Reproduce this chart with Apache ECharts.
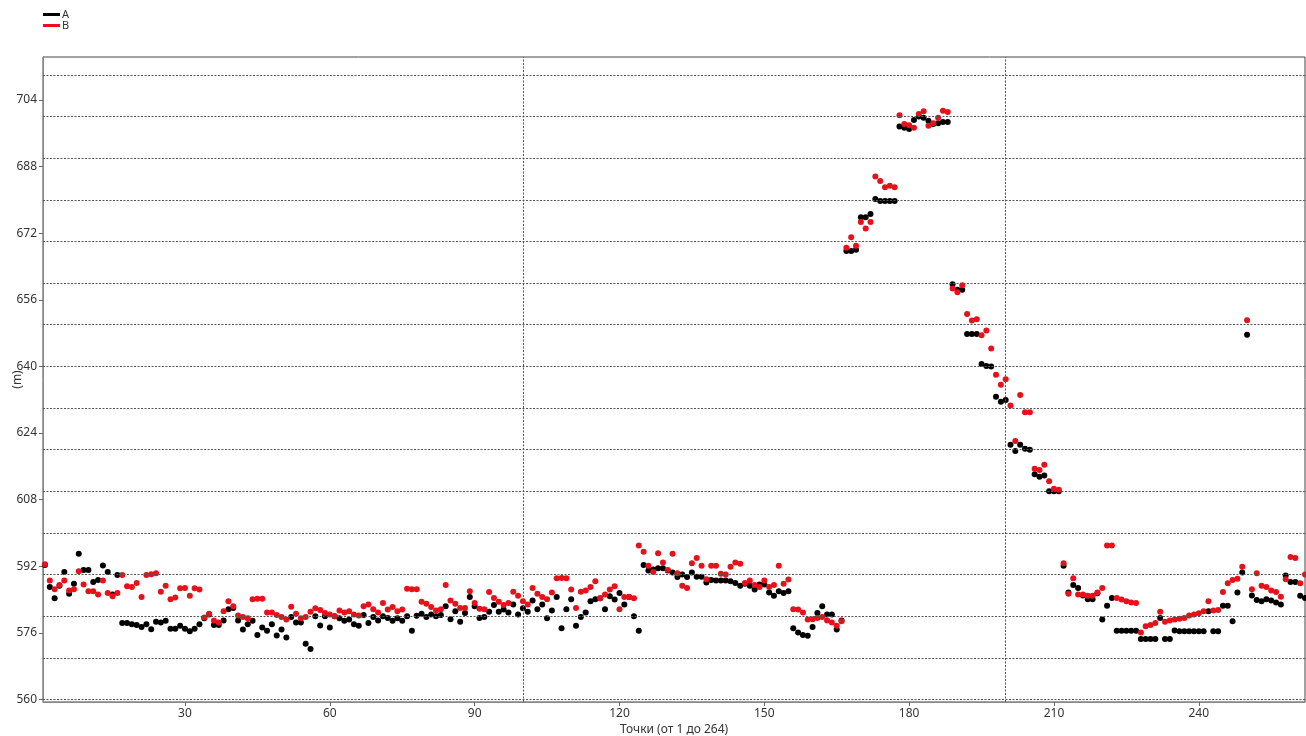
<!DOCTYPE html>
<html>
<head>
<meta charset="utf-8">
<script src="https://cdn.jsdelivr.net/npm/echarts@6/dist/echarts.min.js"></script>
<style>
html,body{margin:0;padding:0;background:#fff;}
#chart{width:1306px;height:736px;}
</style>
</head>
<body>
<div id="chart"></div>
<script>
// Series A (black), points 1..262
const seriesA = [
592.3,587.0,584.3,587.3,590.6,585.4,587.8,595.0,591.1,591.1,
588.2,588.7,592.2,590.6,585.2,589.9,578.4,578.4,578.1,577.9,
577.4,578.1,576.9,578.7,578.5,578.9,577.0,577.0,577.7,577.0,
576.4,577.0,578.1,579.5,580.4,577.9,577.9,579.0,581.7,582.0,
579.0,576.8,578.1,578.9,575.5,577.3,576.5,578.1,575.4,576.8,
574.9,579.8,578.5,578.5,573.4,572.1,580.0,577.8,580.0,577.3,
580.0,579.5,578.9,579.2,578.1,577.7,580.3,578.4,579.8,579.0,
580.0,579.6,578.9,579.5,578.9,580.0,576.5,580.1,580.6,579.8,
580.4,580.0,580.3,582.4,579.3,581.2,578.7,580.8,584.6,582.4,
579.6,579.8,581.1,582.7,581.1,581.6,580.9,582.8,580.4,581.9,
581.1,583.8,581.7,582.8,579.5,581.4,584.6,577.1,581.7,584.1,
577.7,579.8,580.9,583.6,584.1,584.3,581.7,584.8,584.0,585.6,
582.8,584.6,580.0,576.5,592.3,591.0,591.2,591.5,591.5,591.0,
590.5,589.4,590.0,589.4,590.5,589.5,589.5,588.1,588.7,588.6,
588.6,588.6,588.4,588.0,587.3,587.8,587.3,586.4,587.6,587.6,
585.7,584.9,586.0,585.6,586.0,577.1,576.1,575.5,575.3,577.4,
580.8,582.4,580.4,580.4,576.8,579.0,667.7,667.7,668.0,675.8,
675.8,676.6,680.2,679.7,679.7,679.7,679.7,697.6,697.3,697.0,
699.2,700.0,699.7,699.0,698.2,698.4,698.7,698.7,659.7,658.4,
658.4,647.8,647.8,647.8,640.6,640.1,640.0,632.7,631.5,631.9,
621.2,619.7,621.2,620.2,620.0,614.1,613.5,613.8,610.0,610.0,
610.0,592.1,585.7,587.5,586.8,585.0,584.1,584.1,585.5,579.2,
582.5,584.4,576.5,576.5,576.5,576.5,576.5,574.5,574.5,574.5,
574.5,579.6,574.5,574.5,576.6,576.4,576.4,576.4,576.4,576.4,
576.4,581.2,576.4,576.4,582.5,582.5,578.8,585.7,590.5,647.6,
585.0,583.9,583.6,584.1,583.8,583.3,582.8,589.8,588.2,588.2,
584.9,584.4
];
// Series B (red), points 1..262
const seriesB = [
592.5,588.6,586.5,587.5,588.6,586.2,586.5,590.8,587.6,586.0,
586.0,585.2,588.6,585.6,584.8,585.6,589.9,587.2,587.0,588.0,
584.6,589.9,590.1,590.3,585.9,587.3,584.1,584.5,586.7,586.8,
584.9,586.7,586.4,579.7,580.6,579.0,578.5,581.2,583.6,582.4,
580.2,579.8,579.5,584.1,584.2,584.2,580.9,580.9,580.3,579.8,
579.2,582.3,580.6,579.5,579.8,581.1,581.9,581.5,580.8,580.4,
580.0,581.4,580.9,581.2,580.4,580.2,582.4,582.8,581.7,580.9,
583.2,581.6,582.2,581.2,581.6,586.6,586.5,586.5,583.5,583.0,
582.2,581.4,581.7,587.5,583.8,583.0,582.0,582.0,586.0,583.2,
581.8,581.7,585.8,584.4,583.5,582.7,583.2,585.9,584.9,583.6,
582.8,586.8,585.4,584.6,584.1,585.7,589.1,589.2,589.1,586.4,
582.0,585.9,586.2,587.0,588.4,584.3,585.2,586.4,587.2,581.7,
584.6,584.6,584.3,597.0,595.5,592.1,590.6,595.1,592.9,591.1,
595.0,590.3,587.3,586.8,592.7,594.0,592.1,588.9,592.1,592.1,
590.2,590.0,591.9,592.9,592.6,588.0,588.6,587.5,587.0,588.6,
587.0,587.5,592.1,587.8,588.8,581.7,581.6,580.9,579.2,579.3,
579.6,579.8,579.0,578.5,577.7,578.8,668.5,671.0,669.0,674.7,
673.1,674.7,685.6,684.5,683.0,683.4,683.0,700.3,698.2,697.9,
697.3,700.6,701.3,697.8,698.4,699.7,701.4,701.1,658.7,657.8,
659.5,652.6,651.0,651.3,647.5,648.6,644.3,638.0,635.6,636.9,
630.6,622.1,633.1,629.0,629.0,615.4,615.1,616.4,612.4,610.6,
610.4,592.7,585.4,589.1,585.2,585.2,584.9,584.9,585.7,586.8,
597.0,597.0,584.4,584.0,583.6,583.3,583.2,576.1,577.6,577.9,
578.4,581.1,578.7,579.0,579.2,579.4,579.6,580.2,580.4,580.7,
581.2,583.6,581.4,581.5,585.8,587.9,588.7,589.0,591.9,651.1,
586.5,590.3,587.3,587.0,586.2,585.8,584.7,588.9,594.2,594.0,
587.9,590.0
];
const yTickLabels = [560, 576, 592, 608, 624, 640, 656, 672, 688, 704];
const xTickLabels = [30, 60, 90, 120, 150, 180, 210, 240];
const gridY = [560, 570, 580, 590, 600, 610, 620, 630, 640, 650, 660, 670, 680, 690, 700, 710];
const gridX = [100, 200];
const seriesNames = ['A', 'B'];
const seriesColors = ['#000000', '#e8101a'];
const xAxisTitle = 'Точки (от 1 до 264)';
const yAxisTitle = '(m)';

const toPts = arr => arr.map((v, i) => [i + 1, v]);
const font = 'Noto Sans, DejaVu Sans, sans-serif';

const chart = echarts.init(document.getElementById('chart'), null, {renderer: 'canvas'});
chart.setOption({
  animation: false,
  backgroundColor: '#fff',
  legend: {
    data: seriesNames,
    orient: 'vertical',
    left: 43,
    top: 9,
    itemWidth: 17,
    itemHeight: 3,
    itemGap: 0,
    icon: 'rect',
    padding: 0,
    textStyle: {fontFamily: font, fontSize: 11, lineHeight: 10, color: '#333', padding: [0, 0, 0, -3]}
  },
  grid: {
    left: 43, right: 1, top: 57, bottom: 34,
    outerBoundsMode: 'none',
    containLabel: false,
    show: true, borderColor: '#444', borderWidth: 1
  },
  xAxis: {
    type: 'value',
    min: 0.59, max: 262,
    name: xAxisTitle,
    nameLocation: 'middle',
    nameGap: 22,
    nameMoveOverlap: false,
    nameTextStyle: {fontFamily: font, fontSize: 12, color: '#333'},
    axisLine: {show: true, lineStyle: {color: '#888'}},
    axisTick: {show: true, length: 4, customValues: xTickLabels, lineStyle: {color: '#666'}},
    axisLabel: {customValues: xTickLabels, fontFamily: font, fontSize: 12, color: '#333', margin: 6},
    splitLine: {show: false}
  },
  yAxis: {
    type: 'value',
    min: 559.4, max: 714.3,
    name: yAxisTitle,
    nameLocation: 'middle',
    nameGap: 19,
    nameRotate: 90,
    nameMoveOverlap: false,
    nameTextStyle: {fontFamily: font, fontSize: 12, color: '#333'},
    axisLine: {show: true, lineStyle: {color: '#888'}},
    axisTick: {show: true, length: 4, customValues: yTickLabels, lineStyle: {color: '#666'}},
    axisLabel: {customValues: yTickLabels, fontFamily: font, fontSize: 12, color: '#333', margin: 6},
    splitLine: {show: false}
  },
  series: [
    {
      name: 'grid', type: 'scatter', data: [], silent: true, z: 1,
      markLine: {
        silent: true, symbol: ['none', 'none'], animation: false,
        label: {show: false},
        lineStyle: {color: '#555', type: [2, 1.5], width: 1},
        data: gridY.map(v => ({yAxis: v})).concat(gridX.map(v => ({xAxis: v})))
      }
    },
    {
      name: seriesNames[0], type: 'scatter', data: toPts(seriesA), symbolSize: 6, z: 3,
      itemStyle: {color: seriesColors[0], opacity: 1}
    },
    {
      name: seriesNames[1], type: 'scatter', data: toPts(seriesB), symbolSize: 6, z: 4,
      itemStyle: {color: seriesColors[1], opacity: 1}
    }
  ]
});
</script>
</body>
</html>
